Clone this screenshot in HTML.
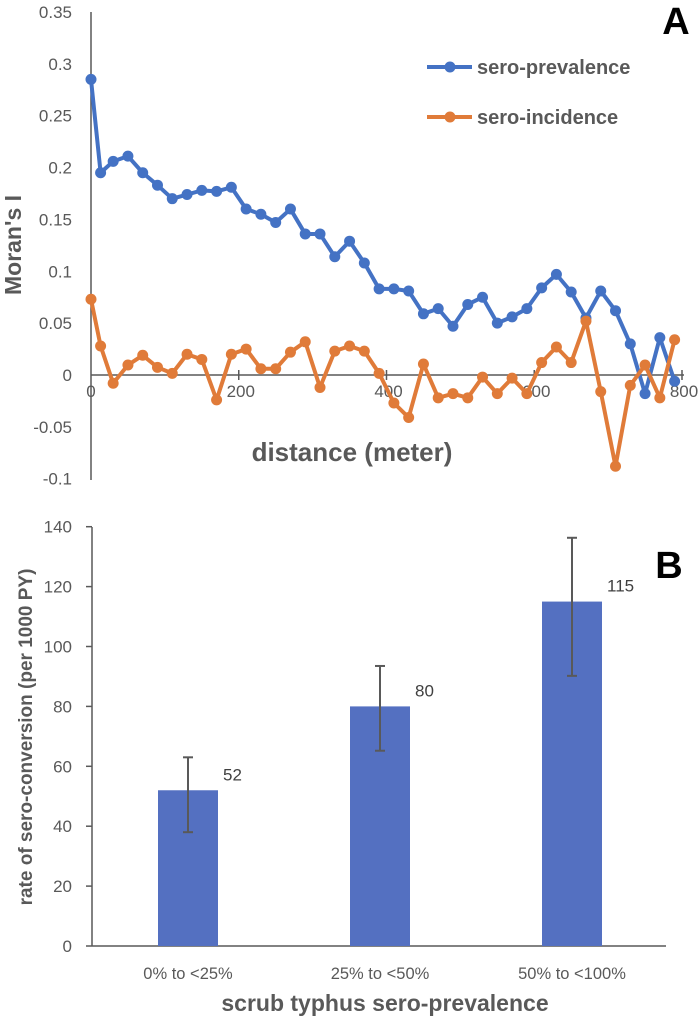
<!DOCTYPE html>
<html><head><meta charset="utf-8"><style>
html,body{margin:0;padding:0;background:#fff;}
svg{display:block;font-family:"Liberation Sans",sans-serif;}
</style></head><body>
<svg id="chart" width="699" height="1021" viewBox="0 0 699 1021" xmlns="http://www.w3.org/2000/svg">
<g id="pa"></g>
<g id="pb"></g>
</svg>
<script>
const distances = [0,13,30,50,70,90,110,130,150,170,190,210,230,250,270,290,310,330,350,370,390,410,430,450,470,490,510,530,550,570,590,610,630,650,670,690,710,730,750,770,790];
const prevalence = [0.285,0.195,0.206,0.211,0.195,0.183,0.170,0.174,0.178,0.177,0.181,0.160,0.155,0.147,0.160,0.136,0.136,0.114,0.129,0.108,0.083,0.083,0.081,0.059,0.064,0.047,0.068,0.075,0.050,0.056,0.064,0.084,0.097,0.080,0.055,0.081,0.062,0.030,-0.018,0.036,-0.006];
const incidence = [0.073,0.028,-0.008,0.0096,0.019,0.0074,0.0016,0.020,0.015,-0.024,0.020,0.025,0.006,0.006,0.022,0.032,-0.012,0.023,0.028,0.023,0.0016,-0.027,-0.041,0.0106,-0.022,-0.018,-0.022,-0.002,-0.018,-0.003,-0.018,0.012,0.027,0.012,0.052,-0.016,-0.088,-0.010,0.0096,-0.022,0.034];
const yTicksA = [0.35,0.3,0.25,0.2,0.15,0.1,0.05,0,-0.05,-0.1];
const xTicksA = [0,200,400,600,800];
const categories = ["0% to <25%","25% to <50%","50% to <100%"];
const rates = [52,80,115];
const rateLabels = ["52","80","115"];
const errLow = [38,65.2,90.2];
const errHigh = [63,93.5,136.3];
const yTicksB = [0,20,40,60,80,100,120,140];

const NS="http://www.w3.org/2000/svg";
function mk(parent,tag,attrs,text){const e=document.createElementNS(NS,tag);for(const k in attrs)e.setAttribute(k,attrs[k]);if(text!==undefined)e.textContent=text;parent.appendChild(e);return e;}
const GRAY="#595959", BLUE="#4472C4", ORANGE="#E07B39";

// Panel A
const pa=document.getElementById('pa');
const xA=d=>91+(d/800)*591;
const yA=v=>375-v*1037.2;
let e=mk(pa,'line',{x1:91,y1:12,x2:91,y2:480,stroke:GRAY,'stroke-width':1.5});


e=mk(pa,'line',{x1:91,y1:375,x2:684,y2:375,stroke:GRAY,'stroke-width':1.5});


yTicksA.forEach(t=>{
  const el=mk(pa,'text',{x:72,y:yA(t)+6,'text-anchor':'end','font-size':17,fill:GRAY},String(t));
  
  
});
xTicksA.forEach(t=>{
  if(t>0){const tk=mk(pa,'line',{x1:xA(t),y1:370,x2:xA(t),y2:380,stroke:GRAY,'stroke-width':1.5});
  
  }
  const el=mk(pa,'text',{x:xA(t)+(t===0?0:2),y:397,'text-anchor':'middle','font-size':17,fill:GRAY},String(t));
  
  
});
function series(vals,color,name){
  const g=mk(pa,'g',{});
  
  
  const pts=vals.map((v,i)=>xA(distances[i])+','+yA(v)).join(' ');
  mk(g,'polyline',{points:pts,fill:'none',stroke:color,'stroke-width':4,'stroke-linejoin':'round'});
  vals.forEach((v,i)=>{
    const c=mk(g,'circle',{cx:xA(distances[i]),cy:yA(v),r:5.5,fill:color});
    
    
  });
}
series(prevalence,BLUE,'series-sero-prevalence');
series(incidence,ORANGE,'series-sero-incidence');
e=mk(pa,'text',{x:0,y:0,'font-size':23,'font-weight':'bold',fill:GRAY,'text-anchor':'middle',transform:'translate(21,245) rotate(-90)'},"Moran's I");


e=mk(pa,'text',{x:352,y:461,'font-size':26,'font-weight':'bold',fill:GRAY,'text-anchor':'middle'},'distance (meter)');


[[BLUE,67,'sero-prevalence'],[ORANGE,117,'sero-incidence']].forEach(([c,y,t])=>{
  const g=mk(pa,'g',{});
  
  
  mk(g,'line',{x1:427,y1:y,x2:472,y2:y,stroke:c,'stroke-width':4});
  mk(g,'circle',{cx:450,cy:y,r:5.5,fill:c});
  mk(g,'text',{x:477,y:y+7,'font-size':20,'font-weight':'bold',fill:GRAY},t);
});
e=mk(pa,'text',{x:676,y:34,'font-size':38,'font-weight':'bold',fill:'#000','text-anchor':'middle'},'A');



// Panel B
const pb=document.getElementById('pb');
const yB=v=>946-v*2.995;
const xB=i=>188+i*192;
e=mk(pb,'line',{x1:92,y1:527,x2:92,y2:946,stroke:GRAY,'stroke-width':1.5});


e=mk(pb,'line',{x1:92,y1:946,x2:666,y2:946,stroke:GRAY,'stroke-width':1.5});


yTicksB.forEach(t=>{
  mk(pb,'line',{x1:86,y1:yB(t),x2:92,y2:yB(t),stroke:GRAY,'stroke-width':1.5});
  const el=mk(pb,'text',{x:72,y:yB(t)+6,'text-anchor':'end','font-size':17,fill:GRAY},String(t));
  
  
});
rates.forEach((v,i)=>{
  const b=mk(pb,'rect',{x:xB(i)-30,y:yB(v),width:60,height:yB(0)-yB(v),fill:'#5470C1'});
  
  
  const g=mk(pb,'g',{stroke:GRAY,'stroke-width':2});
  
  
  mk(g,'line',{x1:xB(i),y1:yB(errHigh[i]),x2:xB(i),y2:yB(errLow[i])});
  mk(g,'line',{x1:xB(i)-5,y1:yB(errHigh[i]),x2:xB(i)+5,y2:yB(errHigh[i])});
  mk(g,'line',{x1:xB(i)-5,y1:yB(errLow[i]),x2:xB(i)+5,y2:yB(errLow[i])});
  const l=mk(pb,'text',{x:xB(i)+35,y:yB(v)-10,'font-size':17,fill:'#404040'},rateLabels[i]);
  
  
  const c=mk(pb,'text',{x:xB(i),y:979,'text-anchor':'middle','font-size':16.5,fill:GRAY},categories[i]);
  
  
});
e=mk(pb,'text',{x:0,y:0,'font-size':19,'font-weight':'bold',fill:GRAY,'text-anchor':'middle',transform:'translate(32,737) rotate(-90)'},'rate of sero-conversion (per 1000 PY)');


e=mk(pb,'text',{x:385,y:1011,'font-size':23,'font-weight':'bold',fill:GRAY,'text-anchor':'middle'},'scrub typhus sero-prevalence');


e=mk(pb,'text',{x:669,y:578,'font-size':38,'font-weight':'bold',fill:'#000','text-anchor':'middle'},'B');


</script>
</body></html>
